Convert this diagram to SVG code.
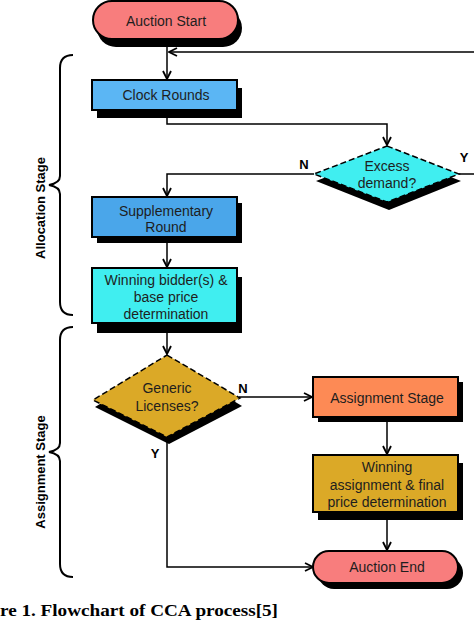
<svg xmlns="http://www.w3.org/2000/svg" width="474" height="620" viewBox="0 0 474 620">
<defs>
<marker id="arr" viewBox="0 0 10 10" refX="9" refY="5" markerWidth="10" markerHeight="10" markerUnits="userSpaceOnUse" orient="auto">
<path d="M1,1 L9,5 L1,9" fill="none" stroke="#000" stroke-width="1.8"/>
</marker>
</defs>
<style>
.sh{fill:#000}
.box{stroke:#000;stroke-width:2}
.dia{stroke:#000;stroke-width:1.5;stroke-dasharray:6 3}
.t{font-family:"Liberation Sans",Arial,sans-serif;font-size:14px;fill:#1e1e1e;text-anchor:middle}
.lbl{font-family:"Liberation Sans",Arial,sans-serif;font-size:13px;font-weight:bold;fill:#000;text-anchor:middle}
.c{fill:none;stroke:#000;stroke-width:1.5}
.br{fill:none;stroke:#000;stroke-width:2}
</style>
<rect width="474" height="620" fill="#fff"/>

<g id="connectors">
<path class="c" d="M167,47 V79" marker-end="url(#arr)"/>
<path class="c" d="M459,174 H476 V52 H169" marker-end="url(#arr)"/>
<path class="c" d="M167,118 V124 H387 V145" marker-end="url(#arr)"/>
<path class="c" d="M314,174 H167 V196" marker-end="url(#arr)"/>
<path class="c" d="M167,243 V267" marker-end="url(#arr)"/>
<path class="c" d="M167,333 V354" marker-end="url(#arr)"/>
<path class="c" d="M239,397 H312" marker-end="url(#arr)"/>
<path class="c" d="M387,422 V454" marker-end="url(#arr)"/>
<path class="c" d="M387,520 V550" marker-end="url(#arr)"/>
<path class="c" d="M167,442 V567 H313" marker-end="url(#arr)"/>
<text class="lbl" x="464" y="162">Y</text>
<text class="lbl" x="304" y="169">N</text>
<text class="lbl" x="243" y="393">N</text>
<text class="lbl" x="155" y="458">Y</text>
</g>

<g id="auction-start">
<rect class="sh" x="97" y="9" width="145" height="38" rx="19"/>
<rect class="box" x="93" y="1" width="145" height="38" rx="19" fill="#f87d7d"/>
<text class="t" x="166" y="26">Auction Start</text>
</g>

<g id="clock-rounds">
<rect class="sh" x="97" y="88" width="145" height="30"/>
<rect class="box" x="92" y="80" width="145" height="30" fill="#5bb6f4"/>
<text class="t" x="166" y="100">Clock Rounds</text>
</g>

<g id="excess-demand">
<polygon class="sh" points="389,153 461,181 389,210 316,181"/>
<polygon class="dia" points="387,146 459,174 387,202 314,174" fill="#40eef0"/>
<text class="t" x="387" y="171">Excess</text>
<text class="t" x="387" y="188">demand?</text>
</g>

<g id="supplementary-round">
<rect class="sh" x="97" y="203" width="145" height="40"/>
<rect class="box" x="92" y="197" width="145" height="40" fill="#4aa6ea"/>
<text class="t" x="166" y="216">Supplementary</text>
<text class="t" x="166" y="232">Round</text>
</g>

<g id="winning-bidders">
<rect class="sh" x="97" y="277" width="145" height="56"/>
<rect class="box" x="92" y="268" width="145" height="55" fill="#40eef0"/>
<text class="t" x="166" y="285">Winning bidder(s) &amp;</text>
<text class="t" x="166" y="302">base price</text>
<text class="t" x="166" y="319">determination</text>
</g>

<g id="generic-licenses">
<polygon class="sh" points="169,362 242,406 169,444 95,407"/>
<polygon class="dia" points="167,355 240,398 167,437 93,400" fill="#dba927"/>
<text class="t" x="167" y="393">Generic</text>
<text class="t" x="167" y="411">Licenses?</text>
</g>

<g id="assignment-stage">
<rect class="sh" x="318" y="382" width="145" height="40"/>
<rect class="box" x="313" y="377" width="145" height="40" fill="#fd8a55"/>
<text class="t" x="387" y="403">Assignment Stage</text>
</g>

<g id="winning-assignment">
<rect class="sh" x="318" y="463" width="145" height="57"/>
<rect class="box" x="313" y="455" width="145" height="57" fill="#dba927"/>
<text class="t" x="387" y="472">Winning</text>
<text class="t" x="387" y="490">assignment &amp; final</text>
<text class="t" x="387" y="507">price determination</text>
</g>

<g id="auction-end">
<rect class="sh" x="318" y="557" width="145" height="32" rx="16"/>
<rect class="box" x="313" y="551" width="145" height="32" rx="16" fill="#f87d7d"/>
<text class="t" x="387" y="572">Auction End</text>
</g>

<g id="allocation-brace">
<path class="br" d="M73,55 Q60,55 60,68 V176 Q60,183 49,185 Q60,187 60,194 V302 Q60,315 73,315"/>
<text class="lbl" transform="translate(45,208) rotate(-90)">Allocation Stage</text>
</g>

<g id="assignment-brace">
<path class="br" d="M73,327 Q60,327 60,340 V443 Q60,450 49,452 Q60,454 60,461 V564 Q60,577 73,577"/>
<text class="lbl" transform="translate(45,472) rotate(-90)">Assignment Stage</text>
</g>

<text x="0" y="616" font-family="'Liberation Serif','Times New Roman',serif" font-size="16" font-weight="bold" fill="#000" textLength="278" lengthAdjust="spacingAndGlyphs">re 1. Flowchart of CCA process[5]</text>
</svg>
